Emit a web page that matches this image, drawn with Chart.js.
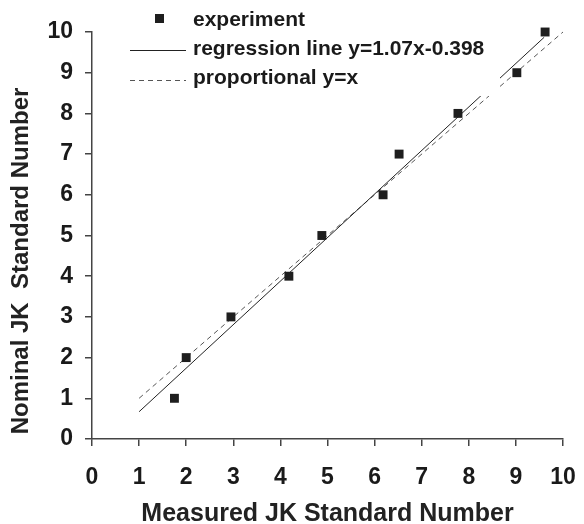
<!DOCTYPE html>
<html>
<head>
<meta charset="utf-8">
<script src="https://cdn.jsdelivr.net/npm/chart.js@4/dist/chart.umd.min.js"></script>
<style>
html,body{margin:0;padding:0;background:#fff;}
#wrap{width:584px;height:524px;position:relative;}
</style>
</head>
<body>
<div id="wrap"><canvas id="c" width="584" height="524"></canvas></div>
<script>
// Experiment points (measured x, nominal y)
const measured = [1.75, 2.0, 2.95, 4.18, 4.88, 6.18, 6.52, 7.77, 9.02, 9.62];
const nominal  = [1, 2, 3, 4, 5, 6, 7, 8, 9, 10];
// Regression line endpoints
const regX = [1, 9.6];
const regY = [0.67, 9.87];
// Proportional line endpoints
const propX = [1, 10];
const propY = [1, 10];
const tickValues = [0,1,2,3,4,5,6,7,8,9,10];
const legendLabels = ['experiment', 'regression line y=1.07x-0.398', 'proportional y=x'];
const xTitle = 'Measured JK Standard Number';
const yTitle = 'Nominal JK  Standard Number';

const FONT = "'Liberation Sans', Arial, sans-serif";

const legendPlugin = {
  id: 'boxLegend',
  afterDatasetsDraw(chart) {
    const ctx = chart.ctx;
    const ds = chart.data.datasets;
    ctx.save();
    ctx.fillStyle = '#fff';
    ctx.fillRect(120, 0, 380, 96);
    const rows = [26, 55, 84];
    ctx.font = 'bold 21px ' + FONT;
    ctx.textBaseline = 'alphabetic';
    ctx.textAlign = 'left';
    ctx.fillStyle = ds[0].backgroundColor;
    ctx.fillRect(155, 14, 9, 9);
    ctx.strokeStyle = ds[1].borderColor;
    ctx.lineWidth = ds[1].borderWidth;
    ctx.setLineDash([]);
    ctx.beginPath(); ctx.moveTo(130, 50.5); ctx.lineTo(186, 50.5); ctx.stroke();
    ctx.strokeStyle = ds[2].borderColor;
    ctx.lineWidth = ds[2].borderWidth;
    ctx.setLineDash(ds[2].borderDash);
    ctx.beginPath(); ctx.moveTo(130, 80.5); ctx.lineTo(186, 80.5); ctx.stroke();
    ctx.setLineDash([]);
    ctx.fillStyle = '#1a1a1a';
    ds.forEach((d, i) => ctx.fillText(d.label, 193, rows[i]));
    // y axis title
    ctx.translate(21, 261);
    ctx.rotate(-Math.PI / 2);
    ctx.font = 'bold 24px ' + FONT;
    ctx.fillStyle = '#222';
    ctx.textAlign = 'center';
    ctx.textBaseline = 'middle';
    ctx.fillText(yTitle, 0, 0);
    ctx.restore();
  }
};

const chart = new Chart(document.getElementById('c'), {
  type: 'scatter',
  data: {
    datasets: [
      {
        label: legendLabels[0],
        data: measured.map((x, i) => ({x: x, y: nominal[i]})),
        pointStyle: 'rect',
        pointRadius: 6.3,
        backgroundColor: '#1e1e1e',
        borderColor: '#1e1e1e',
        borderWidth: 0,
        clip: false,
        order: 0
      },
      {
        label: legendLabels[1],
        type: 'line',
        data: regX.map((x, i) => ({x: x, y: regY[i]})),
        borderColor: '#222',
        borderWidth: 1,
        pointRadius: 0,
        fill: false,
        order: 1
      },
      {
        label: legendLabels[2],
        type: 'line',
        data: propX.map((x, i) => ({x: x, y: propY[i]})),
        borderColor: '#555',
        borderWidth: 1,
        borderDash: [5, 4],
        pointRadius: 0,
        fill: false,
        clip: false,
        order: 2
      }
    ]
  },
  options: {
    responsive: false,
    animation: false,
    devicePixelRatio: 1,
    layout: { padding: { top: 32, right: 21, left: 0, bottom: 0 } },
    plugins: { legend: { display: false }, tooltip: { enabled: false } },
    scales: {
      x: {
        type: 'linear', min: 0, max: 10,
        afterBuildTicks(s) { s.ticks = tickValues.map(v => ({value: v})); },
        afterFit(s) { s.height = 85; s.paddingLeft = 0; s.paddingRight = 0; },
        ticks: { stepSize: 1, color: '#1a1a1a', padding: 18, font: { family: FONT, size: 23, weight: 'bold' } },
        grid: { drawOnChartArea: false, tickLength: 7, color: '#444', lineWidth: 1.5 },
        border: { color: '#444', width: 1.5 },
        title: { display: true, text: xTitle, color: '#222', padding: { top: 7, bottom: -5 }, font: { family: FONT, size: 25, weight: 'bold' } }
      },
      y: {
        type: 'linear', min: 0, max: 10,
        afterBuildTicks(s) { s.ticks = tickValues.map(v => ({value: v})); },
        afterFit(s) { s.width = 92; s.paddingTop = 0; s.paddingBottom = 0; },
        ticks: { stepSize: 1, color: '#1a1a1a', padding: 12, font: { family: FONT, size: 23, weight: 'bold' } },
        grid: { drawOnChartArea: false, tickLength: 7, color: '#444', lineWidth: 1.5 },
        border: { color: '#444', width: 1.5 },
        title: { display: false, text: yTitle }
      }
    }
  },
  plugins: [legendPlugin]
});
</script>
</body>
</html>
